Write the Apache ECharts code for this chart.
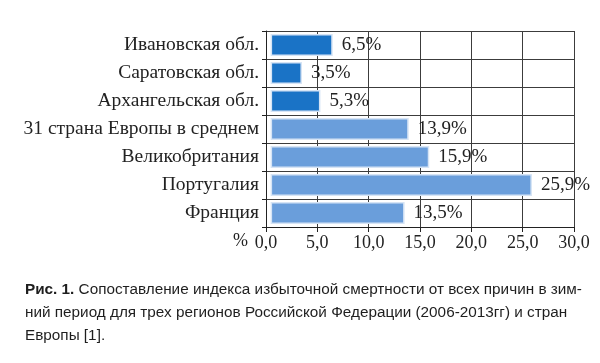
<!DOCTYPE html>
<html><head><meta charset="utf-8">
<script src="https://cdn.jsdelivr.net/npm/echarts@6/dist/echarts.min.js"></script>
<style>html,body{margin:0;padding:0;background:#fff}#c{width:600px;height:363px}</style>
</head><body><div id="c"></div>
<script>
const categories = ['Ивановская обл.', 'Саратовская обл.', 'Архангельская обл.', '31 страна Европы в среднем', 'Великобритания', 'Португалия', 'Франция'];
const values = [6.5, 3.5, 5.3, 13.9, 15.9, 25.9, 13.5];
const groups = ['ru', 'ru', 'ru', 'eu', 'eu', 'eu', 'eu'];
const xTicks = [0, 5, 10, 15, 20, 25, 30];
const captionLines = [
  ['Рис. 1.', ' Сопоставление индекса избыточной смертности от всех причин в зим-'],
  ['', 'ний период для трех регионов Российской Федерации (2006-2013гг) и стран'],
  ['', 'Европы [1].']
];

const colors = { ru: '#1a73c6', eu: '#6a9edb' };
const startOffset = 0.45;
const serif = '"Liberation Serif", "DejaVu Serif", serif';
const capFont = '"Liberation Sans", Arial, sans-serif';

const chart = echarts.init(document.getElementById('c'), null, { renderer: 'canvas' });
const gridLine = '#3c3c3c';

const graphics = captionLines.map((ln, i) => ({
  type: 'text', left: 25, top: 282 + i * 23,
  style: {
    text: (ln[0] ? '{b|' + ln[0] + '}' : '') + '{n|' + ln[1] + '}',
    rich: {
      b: { font: 'bold 15.3px ' + capFont, fill: '#1e1e1e' },
      n: { font: '15.3px ' + capFont, fill: '#1e1e1e' }
    }
  }
}));
graphics.push({
  type: 'text', left: 233, top: 232,
  style: { text: '%', font: '18px ' + serif, fill: '#222' }
});

chart.setOption({
  animation: false,
  grid: { left: 266, right: 26, top: 31, bottom: 136, containLabel: false },
  xAxis: {
    type: 'value', min: xTicks[0], max: xTicks[xTicks.length - 1], interval: 5,
    axisLine: { show: true, lineStyle: { color: '#222', width: 1 } },
    axisTick: { show: true, length: 5, lineStyle: { color: '#222' } },
    splitLine: { show: true, lineStyle: { color: gridLine, width: 1 } },
    axisLabel: {
      margin: 7, color: '#222', fontFamily: serif, fontSize: 18,
      formatter: v => v.toFixed(1).replace('.', ',')
    }
  },
  yAxis: {
    type: 'category', inverse: true, data: categories,
    axisLine: { show: true, lineStyle: { color: '#222', width: 1 } },
    axisTick: { show: true, length: 4, lineStyle: { color: '#222' } },
    splitLine: { show: true, lineStyle: { color: gridLine, width: 1 } },
    axisLabel: { margin: 7, color: '#222', fontFamily: serif, fontSize: 19.5 }
  },
  series: [
    {
      type: 'bar', stack: 's', barWidth: 22, silent: true,
      data: values.map(() => startOffset),
      itemStyle: { color: 'rgba(0,0,0,0)' }
    },
    {
      type: 'bar', stack: 's', barWidth: 22,
      data: values.map((v, i) => ({
        value: v - startOffset,
        itemStyle: { color: colors[groups[i]], borderColor: '#d6e4f5', borderWidth: 1.5 }
      })),
      label: {
        show: true, position: 'right', distance: 9,
        fontFamily: serif, fontSize: 19, color: '#222',
        formatter: p => values[p.dataIndex].toFixed(1).replace('.', ',') + '%'
      }
    }
  ],
  graphic: graphics
});
</script></body></html>
